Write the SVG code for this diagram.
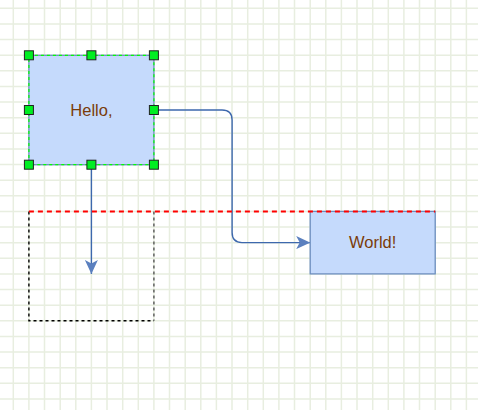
<svg xmlns="http://www.w3.org/2000/svg" width="478" height="410" viewBox="0 0 478 410">
  <defs>
    <marker id="arrow" markerWidth="14" markerHeight="13" refX="14" refY="6.5" orient="auto" markerUnits="userSpaceOnUse">
      <path d="M 0 0 L 14 6.5 L 0 13 L 3.5 6.5 Z" fill="#5b80bf"/>
    </marker>
    <style>
      .grid { fill: none; stroke: #e8eee0; stroke-width: 1.5; }
      .box { fill: #c5dafc; stroke: #6c8ebf; stroke-width: 1.3; }
      .label { font-family: "Liberation Sans", Arial, sans-serif; font-size: 16.5px; fill: #7a3c0a; text-anchor: middle; }
      .edge { fill: none; stroke: #3d68ad; stroke-width: 1.4; }
      .handle { fill: #00ee22; stroke: #222; stroke-width: 1; }
      .guide { stroke: #ff0000; stroke-width: 2; stroke-dasharray: 5,4; fill: none; }
    </style>
  </defs>
  <rect width="478" height="410" fill="#ffffff"/>
  <path class="grid" d="M13.3 0V410M28.9 0V410M44.5 0V410M60.2 0V410M75.8 0V410M91.4 0V410M107 0V410M122.7 0V410M138.3 0V410M153.9 0V410M169.5 0V410M185.2 0V410M200.8 0V410M216.4 0V410M232 0V410M247.7 0V410M263.3 0V410M278.9 0V410M294.5 0V410M310.2 0V410M325.8 0V410M341.4 0V410M357 0V410M372.7 0V410M388.3 0V410M403.9 0V410M419.5 0V410M435.2 0V410M450.8 0V410M466.4 0V410M0 8.3H478M0 23.9H478M0 39.5H478M0 55.2H478M0 70.8H478M0 86.4H478M0 102H478M0 117.7H478M0 133.3H478M0 148.9H478M0 164.5H478M0 180.2H478M0 195.8H478M0 211.4H478M0 227H478M0 242.7H478M0 258.3H478M0 273.9H478M0 289.5H478M0 305.2H478M0 320.8H478M0 336.4H478M0 352H478M0 367.7H478M0 383.3H478M0 398.9H478"/>

  <g id="preview">
    <path d="M 28.9 211.4 L 28.9 320.8 L 153.9 320.8" fill="none" stroke="#000" stroke-width="1.4" stroke-dasharray="3,3"/>
    <path d="M 153.9 211.4 L 153.9 320.8" fill="none" stroke="#555" stroke-width="1.4" stroke-dasharray="3,3"/>
  </g>

  <g id="connectors">
    <path class="edge" d="M 153.9 110 L 222 110 Q 232.1 110 232.1 120 L 232.1 232.6 Q 232.1 242.6 242 242.6 L 310.2 242.6" marker-end="url(#arrow)"/>
    <path class="edge" d="M 91.4 164.7 L 91.4 274" marker-end="url(#arrow)"/>
  </g>

  <g id="hello">
    <rect class="box" x="28.9" y="55.3" width="125" height="109.4"/>
    <rect x="28.9" y="55.3" width="125" height="109.4" fill="none" stroke="#00ff00" stroke-width="1.2" stroke-dasharray="3,3"/>
    <text class="label" x="91.4" y="116">Hello,</text>
    <rect class="handle" x="24.4" y="50.8" width="9" height="9"/>
    <rect class="handle" x="86.9" y="50.8" width="9" height="9"/>
    <rect class="handle" x="149.4" y="50.8" width="9" height="9"/>
    <rect class="handle" x="24.4" y="105.5" width="9" height="9"/>
    <rect class="handle" x="149.4" y="105.5" width="9" height="9"/>
    <rect class="handle" x="24.4" y="160.2" width="9" height="9"/>
    <rect class="handle" x="86.9" y="160.2" width="9" height="9"/>
    <rect class="handle" x="149.4" y="160.2" width="9" height="9"/>
  </g>

  <g id="world">
    <rect class="box" x="310.2" y="211.4" width="125" height="62.5"/>
    <text class="label" x="372.7" y="248.4">World!</text>
  </g>

  <g id="guide">
    <line class="guide" x1="28.9" y1="211.5" x2="435.2" y2="211.5"/>
  </g>
</svg>
